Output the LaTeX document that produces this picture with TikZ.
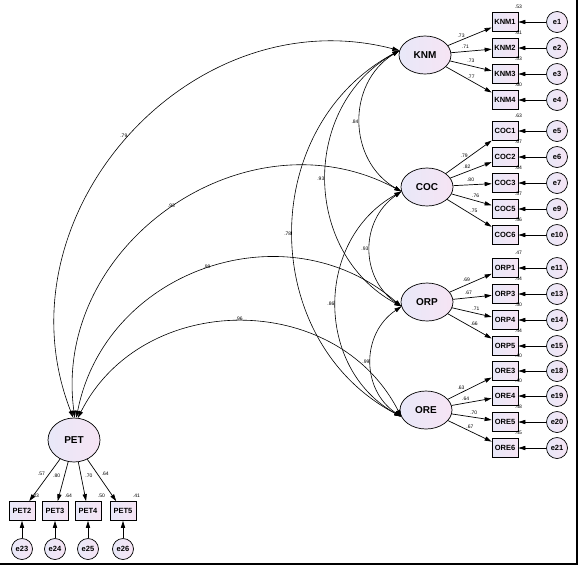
\documentclass[tikz,border=0pt]{standalone}
\usepackage{fontspec}
\setmainfont{Liberation Sans}
\usetikzlibrary{shapes.geometric,arrows.meta,positioning}

\definecolor{lavleft}{RGB}{232,232,248}
\definecolor{lavright}{RGB}{246,228,244}

\tikzset{
  latent/.style={ellipse, draw, line width=0.7pt, left color=lavleft, right color=lavright, minimum width=52pt, minimum height=38pt, inner sep=0pt, font=\bfseries\fontsize{10}{12}\selectfont},
  observed/.style={rectangle, draw, line width=0.7pt, left color=lavleft, right color=lavright, minimum width=26pt, minimum height=19pt, inner sep=1pt, font=\bfseries\fontsize{7.5}{9}\selectfont},
  errterm/.style={circle, draw, line width=0.7pt, left color=lavleft, right color=lavright, minimum size=21pt, inner sep=0pt, font=\bfseries\fontsize{7.5}{9}\selectfont},
  coef/.style={font=\fontsize{5}{6}\selectfont, inner sep=0.5pt},
  rsq/.style={label={[coef, anchor=south, yshift=3pt]north east:#1}},
  load/.style={->, line width=0.7pt},
  cov/.style={<->, line width=0.6pt, looseness=1.13},
}

\begin{document}
\begin{tikzpicture}[x=1pt, y=-1pt, >={Triangle[length=7pt,width=4.2pt]}]
\useasboundingbox (0,0) rectangle (578,566);

% latent variables
\node[latent] (KNM) at (425,55) {KNM};
\node[latent] (COC) at (427,187) {COC};
\node[latent] (ORP) at (427,302) {ORP};
\node[latent] (ORE) at (426,410) {ORE};
\node[latent, minimum height=44pt] (PET) at (74,440) {PET};

% indicators of the right-hand factors
\foreach \fac/\ind/\err/\ypos/\lam/\where/\rsqv in {KNM/KNM1/e1/22/.73/.3/.53, KNM/KNM2/e2/48/.71/.35/.61, KNM/KNM3/e3/74/.73/.5/.53, KNM/KNM4/e4/100/.77/.55/.60,
  COC/COC1/e5/131/.79/.4/.63, COC/COC2/e6/157/.82/.4/.67, COC/COC3/e7/183/.80/.45/.64, COC/COC5/e9/209/.76/.6/.57, COC/COC6/e10/235/.75/.6/.56,
  ORP/ORP1/e11/268/.69/.4/.47, ORP/ORP3/e13/294/.67/.4/.44, ORP/ORP4/e14/320/.71/.6/.50, ORP/ORP5/e15/346/.66/.6/.44,
  ORE/ORE3/e18/371/.63/.3/.40, ORE/ORE4/e19/396/.64/.35/.40, ORE/ORE5/e20/422/.70/.55/.48, ORE/ORE6/e21/448/.67/.5/.45}{
  \node[observed, rsq=\rsqv] (\ind) at (505,\ypos) {\ind};
  \node[errterm] (\err) at (557,\ypos) {\err};
  \draw[load] (\err) -- (\ind);
  \draw[load] (\fac) -- (\ind) node[coef, pos=\where, above=2pt] {\lam};
}

% indicators of PET
\foreach \ind/\err/\xpos/\lam/\anc/\rsqv in {PET2/e23/22/.57/east/.33, PET3/e24/55/.80/east/.64, PET4/e25/88/.70/west/.50, PET5/e26/123/.64/west/.41}{
  \node[observed, rsq=\rsqv] (\ind) at (\xpos,511) {\ind};
  \node[errterm] (\err) at (\xpos,549) {\err};
  \draw[load] (\err) -- (\ind);
  \draw[load] (PET) -- (\ind) node[coef, pos=0.35, anchor=\anc, inner xsep=4pt] {\lam};
}

% correlations between the factors
\draw[cov] (PET.92) to[bend left=63] node[coef, midway, above left] {.79} (KNM.170);
\draw[cov] (PET.88) to[bend left=63] node[coef, midway, above] {.93} (COC.190);
\draw[cov] (PET.84) to[bend left=60] node[coef, midway, above] {.99} (ORP.190);
\draw[cov] (PET.80) to[bend left=63] node[coef, midway, above] {.96} (ORE.195);
\draw[cov] (KNM.170) to[bend right=59] node[coef, midway, left=1pt] {.84} (COC.190);
\draw[cov] (KNM.170) to[bend right=61] node[coef, midway, left=1pt] {.93} (ORP.190);
\draw[cov] (KNM.170) to[bend right=62] node[coef, midway, left=1pt] {.78} (ORE.195);
\draw[cov] (COC.190) to[bend right=55] node[coef, midway, left=1pt] {.93} (ORP.190);
\draw[cov] (COC.190) to[bend right=61] node[coef, midway, left=1pt] {.86} (ORE.195);
\draw[cov] (ORP.190) to[bend right=56] node[coef, midway, left=1pt] {.99} (ORE.195);

% frame
\draw[line width=1.5pt] (0,564) -- (577,564) -- (577,0);
\end{tikzpicture}
\end{document}
